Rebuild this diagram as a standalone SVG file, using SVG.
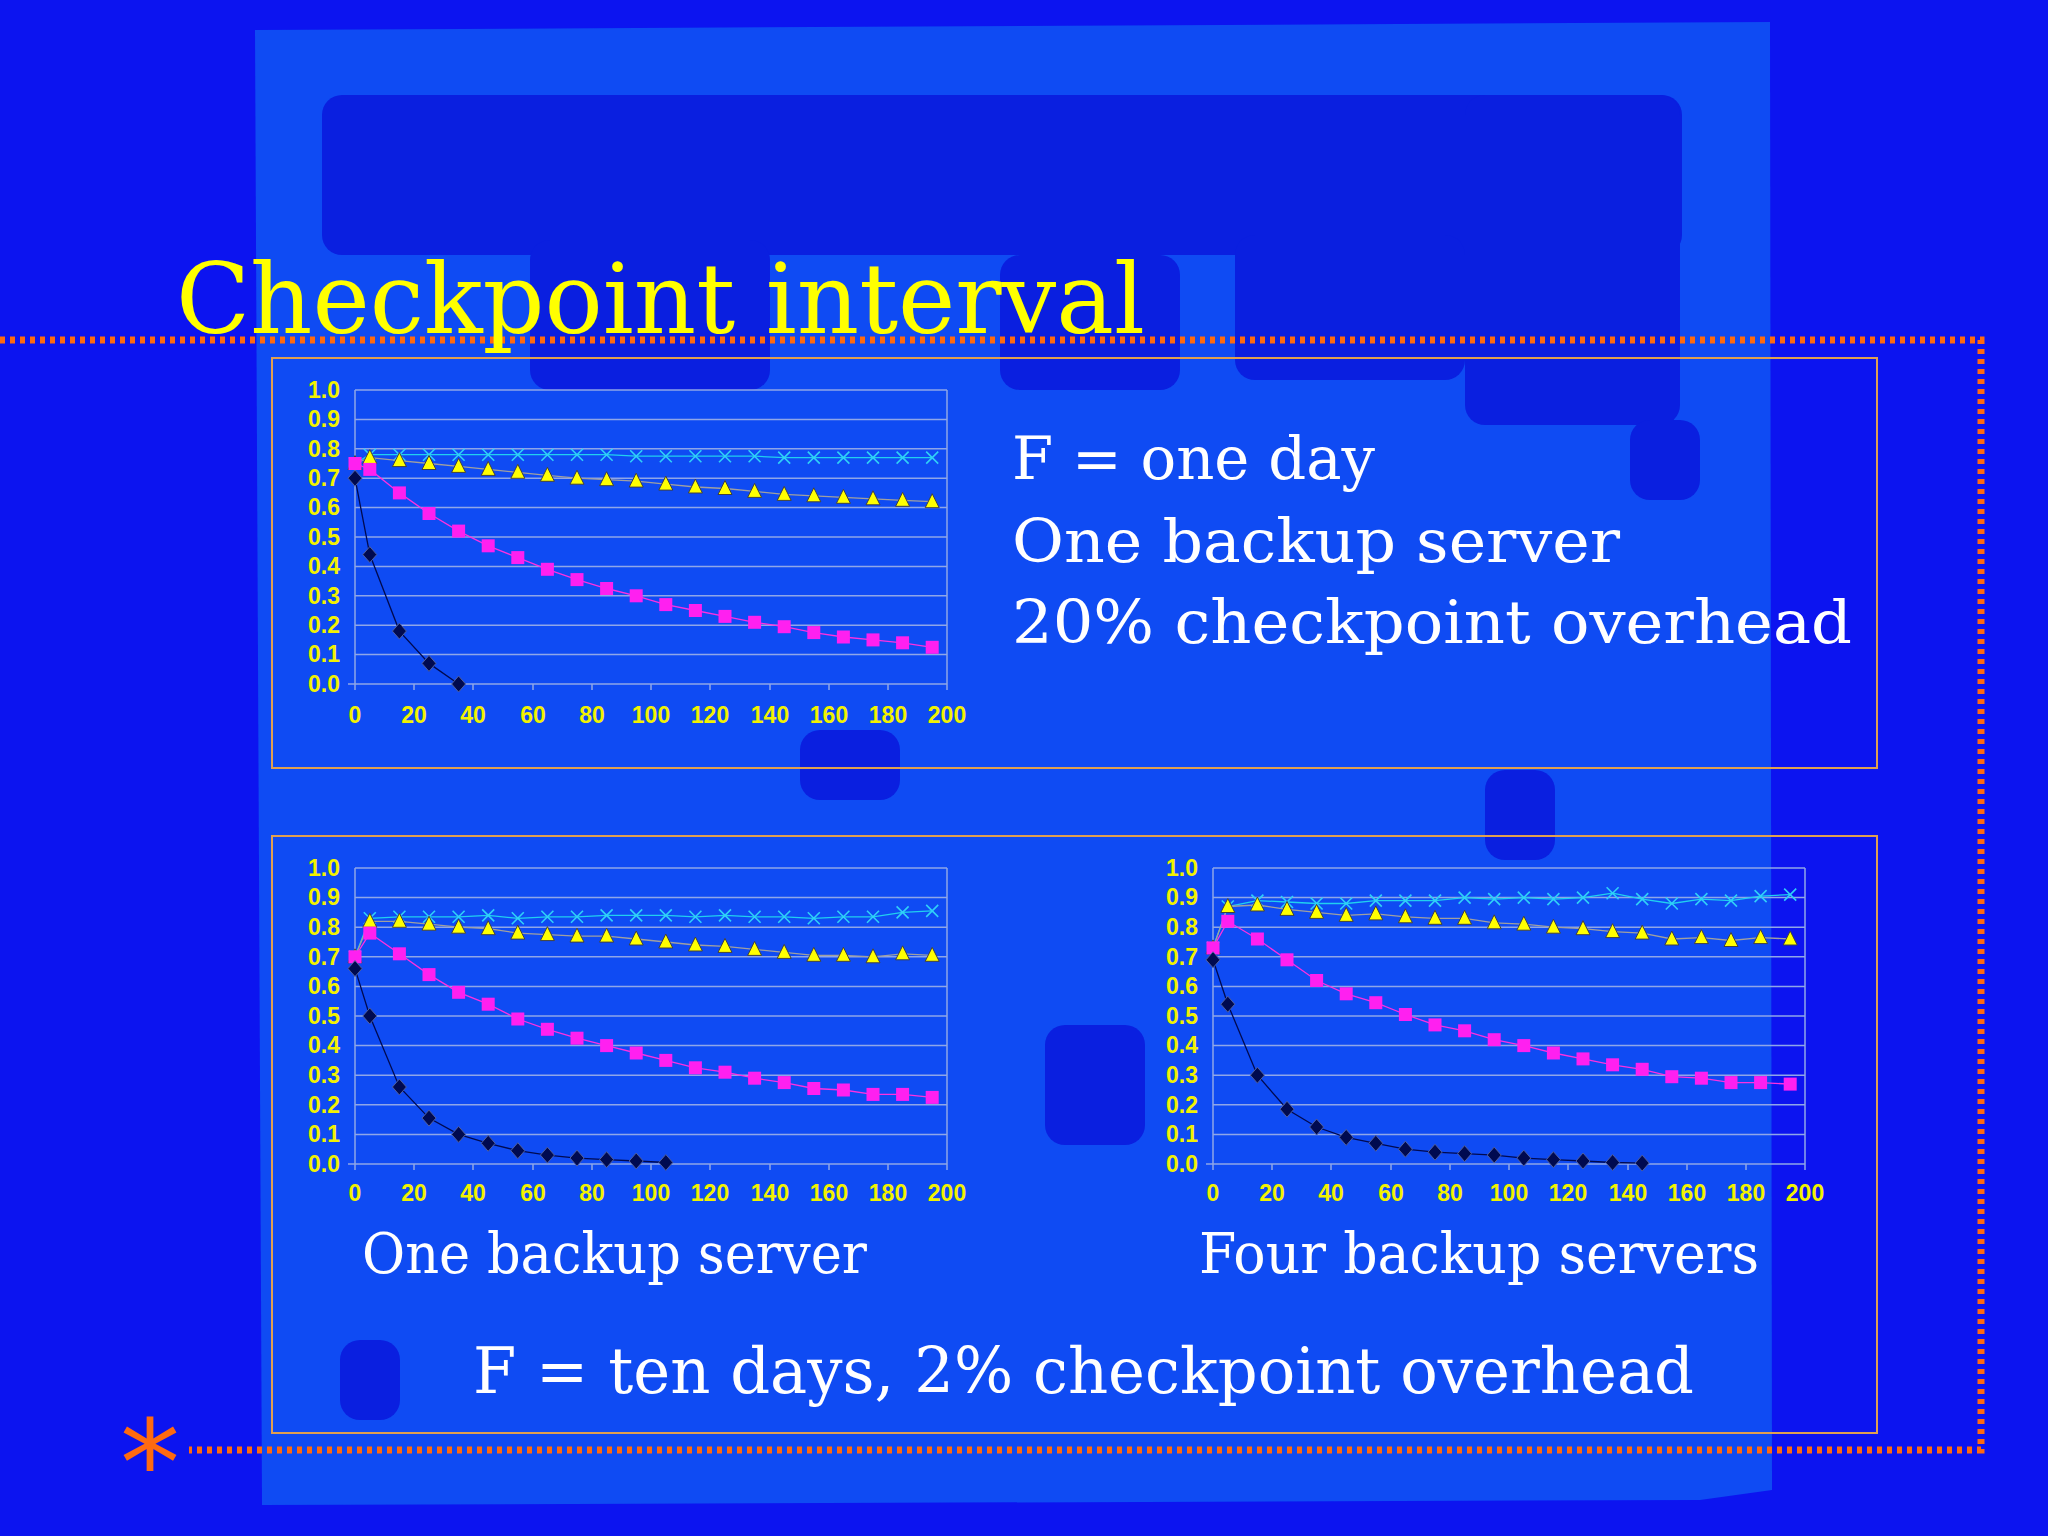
<svg xmlns="http://www.w3.org/2000/svg" width="2048" height="1536" viewBox="0 0 2048 1536">
<style>
.grid{stroke:#8FA6E8;stroke-width:1.5}
.ax{stroke:#8FA6E8;stroke-width:1.5;fill:none}
.lbl{font-family:"Liberation Sans",Arial,sans-serif;font-weight:bold;font-size:23px;fill:#F2F200}
.ylab{text-anchor:end}
.xlab{text-anchor:middle}
.big{font-family:"DejaVu Serif","Liberation Serif",serif;fill:#FFFFFF}
.dk{fill:#0A1FE0}
.s1{fill:none;stroke:#000A50;stroke-width:1.3;marker-start:url(#dia);marker-mid:url(#dia);marker-end:url(#dia)}
.s2{fill:none;stroke:#FF30E0;stroke-width:1.3;marker-start:url(#sq);marker-mid:url(#sq);marker-end:url(#sq)}
.s3{fill:none;stroke:#A0A0A0;stroke-width:1.3;marker-start:url(#tri);marker-mid:url(#tri);marker-end:url(#tri)}
.s4{fill:none;stroke:#20D0F0;stroke-width:1.3;marker-start:url(#crs);marker-mid:url(#crs);marker-end:url(#crs)}
.box{fill:none;stroke:#E0A050;stroke-width:2}
.dot{stroke:#FF6A10;stroke-width:7;stroke-dasharray:5 5;fill:none}
</style>
<defs>
<marker id="dia" markerUnits="userSpaceOnUse" markerWidth="20" markerHeight="20" refX="10" refY="10" overflow="visible"><path d="M10 2 L17 10 L10 18 L3 10Z" fill="#000A50" stroke="#5060A0" stroke-width="1"/></marker>
<marker id="sq" markerUnits="userSpaceOnUse" markerWidth="20" markerHeight="20" refX="10" refY="10" overflow="visible"><rect x="3.5" y="3.5" width="13" height="13" fill="#FF20F0"/></marker>
<marker id="tri" markerUnits="userSpaceOnUse" markerWidth="20" markerHeight="20" refX="10" refY="10" overflow="visible"><path d="M10 2 L17 16 L3 16Z" fill="#FFFF00" stroke="#404040" stroke-width="1"/></marker>
<marker id="crs" markerUnits="userSpaceOnUse" markerWidth="20" markerHeight="20" refX="10" refY="10" overflow="visible"><path d="M4 4 L16 16 M16 4 L4 16" stroke="#30D0F8" stroke-width="1.6"/></marker>
</defs>

<g id="background">
<rect width="2048" height="1536" fill="#0C14F0"/>
<path d="M255 30 L1770 22 L1772 1490 L1700 1500 L262 1505 Z" fill="#0F4BF3"/>
<rect class="dk" x="322" y="95" width="1360" height="160" rx="20"/>
<rect class="dk" x="1465" y="95" width="215" height="330" rx="20"/>
<rect class="dk" x="530" y="240" width="240" height="150" rx="20"/>
<rect class="dk" x="1235" y="235" width="230" height="145" rx="20"/>
<rect class="dk" x="1000" y="255" width="180" height="135" rx="20"/>
<rect class="dk" x="800" y="730" width="100" height="70" rx="20"/>
<rect class="dk" x="1045" y="1025" width="100" height="120" rx="20"/>
<rect class="dk" x="1485" y="770" width="70" height="90" rx="20"/>
<rect class="dk" x="1630" y="420" width="70" height="80" rx="20"/>
<rect class="dk" x="340" y="1340" width="60" height="80" rx="20"/>
</g>

<g id="frame">
<path class="dot" d="M0 340 L1981 340 L1981 1450 L189 1450"/>
<text x="150" y="1505" font-family="DejaVu Sans,sans-serif" font-size="120" fill="#FF6A10" text-anchor="middle">*</text>
</g>

<g id="title">
<text x="176" y="333" font-family="DejaVu Serif,serif" font-size="98" fill="#FFFF00" textLength="969" lengthAdjust="spacingAndGlyphs">Checkpoint interval</text>
</g>

<g id="box-top">
<rect class="box" x="272" y="358" width="1605" height="410"/>
<text class="big" x="1012" y="479" font-size="60" textLength="363" lengthAdjust="spacingAndGlyphs">F = one day</text>
<text class="big" x="1012" y="562" font-size="60" textLength="608" lengthAdjust="spacingAndGlyphs">One backup server</text>
<text class="big" x="1012" y="643" font-size="60" textLength="840" lengthAdjust="spacingAndGlyphs">20% checkpoint overhead</text>
</g>

<g id="chart1">
<g class="grid">
<line x1="355" y1="390" x2="947" y2="390"/><line x1="355" y1="419.4" x2="947" y2="419.4"/><line x1="355" y1="448.8" x2="947" y2="448.8"/><line x1="355" y1="478.2" x2="947" y2="478.2"/><line x1="355" y1="507.6" x2="947" y2="507.6"/><line x1="355" y1="537" x2="947" y2="537"/><line x1="355" y1="566.4" x2="947" y2="566.4"/><line x1="355" y1="595.8" x2="947" y2="595.8"/><line x1="355" y1="625.2" x2="947" y2="625.2"/><line x1="355" y1="654.6" x2="947" y2="654.6"/>
</g>
<path class="ax" d="M947 390 L947 684 M355 390 L355 690 M348 684 L947 684 M414 684v6 M473 684v6 M533 684v6 M592 684v6 M651 684v6 M710 684v6 M770 684v6 M829 684v6 M888 684v6 M947 684v6"/>
<g class="lbl ylab">
<text x="340" y="398">1.0</text><text x="340" y="427">0.9</text><text x="340" y="457">0.8</text><text x="340" y="486">0.7</text><text x="340" y="515">0.6</text><text x="340" y="545">0.5</text><text x="340" y="574">0.4</text><text x="340" y="604">0.3</text><text x="340" y="633">0.2</text><text x="340" y="662">0.1</text><text x="340" y="692">0.0</text>
</g>
<g class="lbl xlab">
<text x="355" y="723">0</text><text x="414" y="723">20</text><text x="473" y="723">40</text><text x="533" y="723">60</text><text x="592" y="723">80</text><text x="651" y="723">100</text><text x="710" y="723">120</text><text x="770" y="723">140</text><text x="829" y="723">160</text><text x="888" y="723">180</text><text x="947" y="723">200</text>
</g>
<polyline class="s4" points="355,463.5 369.8,454.7 399.4,454.7 429,454.7 458.6,454.7 488.2,454.7 517.8,454.7 547.4,454.7 577,454.7 606.6,454.7 636.2,456.2 665.8,456.2 695.4,456.2 725,456.2 754.6,456.2 784.2,457.6 813.8,457.6 843.4,457.6 873,457.6 902.6,457.6 932.2,457.6"/>
<polyline class="s3" points="355,463.5 369.8,457.6 399.4,460.6 429,463.5 458.6,466.4 488.2,469.4 517.8,472.3 547.4,475.3 577,478.2 606.6,479.7 636.2,481.1 665.8,484.1 695.4,487 725,488.5 754.6,491.4 784.2,494.4 813.8,495.8 843.4,497.3 873,498.8 902.6,500.3 932.2,501.7"/>
<polyline class="s2" points="355,463.5 369.8,469.4 399.4,492.9 429,513.5 458.6,531.1 488.2,545.8 517.8,557.6 547.4,569.3 577,579.6 606.6,588.5 636.2,595.8 665.8,604.6 695.4,610.5 725,616.4 754.6,622.3 784.2,626.7 813.8,632.6 843.4,637 873,639.9 902.6,642.8 932.2,647.3"/>
<polyline class="s1" points="355,478.2 369.8,554.6 399.4,631.1 429,663.4 458.6,684"/>
</g>

<g id="box-bottom">
<rect class="box" x="272" y="836" width="1605" height="597"/>
<text class="big" x="362" y="1273" font-size="56" textLength="505" lengthAdjust="spacingAndGlyphs">One backup server</text>
<text class="big" x="1199" y="1273" font-size="56" textLength="560" lengthAdjust="spacingAndGlyphs">Four backup servers</text>
<text class="big" x="473" y="1393" font-size="64" textLength="1221" lengthAdjust="spacingAndGlyphs">F = ten days, 2% checkpoint overhead</text>
</g>

<g id="chart2">
<g class="grid">
<line x1="355" y1="868" x2="947" y2="868"/><line x1="355" y1="897.6" x2="947" y2="897.6"/><line x1="355" y1="927.2" x2="947" y2="927.2"/><line x1="355" y1="956.8" x2="947" y2="956.8"/><line x1="355" y1="986.4" x2="947" y2="986.4"/><line x1="355" y1="1016" x2="947" y2="1016"/><line x1="355" y1="1045.6" x2="947" y2="1045.6"/><line x1="355" y1="1075.2" x2="947" y2="1075.2"/><line x1="355" y1="1104.8" x2="947" y2="1104.8"/><line x1="355" y1="1134.4" x2="947" y2="1134.4"/>
</g>
<path class="ax" d="M947 868 L947 1164 M355 868 L355 1170 M348 1164 L947 1164 M414 1164v6 M473 1164v6 M533 1164v6 M592 1164v6 M651 1164v6 M710 1164v6 M770 1164v6 M829 1164v6 M888 1164v6 M947 1164v6"/>
<g class="lbl ylab">
<text x="340" y="876">1.0</text><text x="340" y="905">0.9</text><text x="340" y="935">0.8</text><text x="340" y="965">0.7</text><text x="340" y="994">0.6</text><text x="340" y="1024">0.5</text><text x="340" y="1053">0.4</text><text x="340" y="1083">0.3</text><text x="340" y="1113">0.2</text><text x="340" y="1142">0.1</text><text x="340" y="1172">0.0</text>
</g>
<g class="lbl xlab">
<text x="355" y="1201">0</text><text x="414" y="1201">20</text><text x="473" y="1201">40</text><text x="533" y="1201">60</text><text x="592" y="1201">80</text><text x="651" y="1201">100</text><text x="710" y="1201">120</text><text x="770" y="1201">140</text><text x="829" y="1201">160</text><text x="888" y="1201">180</text><text x="947" y="1201">200</text>
</g>
<polyline class="s4" points="355,956.8 369.8,918.3 399.4,916.8 429,916.8 458.6,916.8 488.2,915.4 517.8,918.3 547.4,916.8 577,916.8 606.6,915.4 636.2,915.4 665.8,915.4 695.4,916.8 725,915.4 754.6,916.8 784.2,916.8 813.8,918.3 843.4,916.8 873,916.8 902.6,912.4 932.2,910.9"/>
<polyline class="s3" points="355,956.8 369.8,921.3 399.4,921.3 429,924.2 458.6,927.2 488.2,928.7 517.8,933.1 547.4,934.6 577,936.1 606.6,936.1 636.2,939 665.8,942 695.4,945 725,946.4 754.6,949.4 784.2,952.4 813.8,955.3 843.4,955.3 873,956.8 902.6,953.8 932.2,955.3"/>
<polyline class="s2" points="355,956.8 369.8,933.1 399.4,953.8 429,974.6 458.6,992.3 488.2,1004.2 517.8,1019 547.4,1029.3 577,1038.2 606.6,1045.6 636.2,1053 665.8,1060.4 695.4,1067.8 725,1072.2 754.6,1078.2 784.2,1082.6 813.8,1088.5 843.4,1090 873,1094.4 902.6,1094.4 932.2,1097.4"/>
<polyline class="s1" points="355,968.6 369.8,1016 399.4,1087 429,1118.1 458.6,1134.4 488.2,1143.3 517.8,1150.7 547.4,1155.1 577,1158.1 606.6,1159.6 636.2,1161 665.8,1162.5"/>
</g>

<g id="chart3">
<g class="grid">
<line x1="1213" y1="868" x2="1805" y2="868"/><line x1="1213" y1="897.6" x2="1805" y2="897.6"/><line x1="1213" y1="927.2" x2="1805" y2="927.2"/><line x1="1213" y1="956.8" x2="1805" y2="956.8"/><line x1="1213" y1="986.4" x2="1805" y2="986.4"/><line x1="1213" y1="1016" x2="1805" y2="1016"/><line x1="1213" y1="1045.6" x2="1805" y2="1045.6"/><line x1="1213" y1="1075.2" x2="1805" y2="1075.2"/><line x1="1213" y1="1104.8" x2="1805" y2="1104.8"/><line x1="1213" y1="1134.4" x2="1805" y2="1134.4"/>
</g>
<path class="ax" d="M1805 868 L1805 1164 M1213 868 L1213 1170 M1206 1164 L1805 1164 M1272 1164v6 M1331 1164v6 M1391 1164v6 M1450 1164v6 M1509 1164v6 M1568 1164v6 M1628 1164v6 M1687 1164v6 M1746 1164v6 M1805 1164v6"/>
<g class="lbl ylab">
<text x="1198" y="876">1.0</text><text x="1198" y="905">0.9</text><text x="1198" y="935">0.8</text><text x="1198" y="965">0.7</text><text x="1198" y="994">0.6</text><text x="1198" y="1024">0.5</text><text x="1198" y="1053">0.4</text><text x="1198" y="1083">0.3</text><text x="1198" y="1113">0.2</text><text x="1198" y="1142">0.1</text><text x="1198" y="1172">0.0</text>
</g>
<g class="lbl xlab">
<text x="1213" y="1201">0</text><text x="1272" y="1201">20</text><text x="1331" y="1201">40</text><text x="1391" y="1201">60</text><text x="1450" y="1201">80</text><text x="1509" y="1201">100</text><text x="1568" y="1201">120</text><text x="1628" y="1201">140</text><text x="1687" y="1201">160</text><text x="1746" y="1201">180</text><text x="1805" y="1201">200</text>
</g>
<polyline class="s4" points="1213,947.9 1227.8,906.5 1257.4,900.6 1287,902 1316.6,903.5 1346.2,903.5 1375.8,900.6 1405.4,900.6 1435,900.6 1464.6,897.6 1494.2,899.1 1523.8,897.6 1553.4,899.1 1583,897.6 1612.6,893.2 1642.2,899.1 1671.8,903.5 1701.4,899.1 1731,900.6 1760.6,896.1 1790.2,894.6"/>
<polyline class="s3" points="1213,947.9 1227.8,906.5 1257.4,905 1287,909.4 1316.6,912.4 1346.2,915.4 1375.8,913.9 1405.4,916.8 1435,918.3 1464.6,918.3 1494.2,922.8 1523.8,924.2 1553.4,927.2 1583,928.7 1612.6,931.6 1642.2,933.1 1671.8,939 1701.4,937.6 1731,940.5 1760.6,937.6 1790.2,939"/>
<polyline class="s2" points="1213,947.9 1227.8,921.3 1257.4,939 1287,959.8 1316.6,980.5 1346.2,993.8 1375.8,1002.7 1405.4,1014.5 1435,1024.9 1464.6,1030.8 1494.2,1039.7 1523.8,1045.6 1553.4,1053 1583,1058.9 1612.6,1064.8 1642.2,1069.3 1671.8,1076.7 1701.4,1078.2 1731,1082.6 1760.6,1082.6 1790.2,1084.1"/>
<polyline class="s1" points="1213,959.8 1227.8,1004.2 1257.4,1075.2 1287,1109.2 1316.6,1127 1346.2,1137.4 1375.8,1143.3 1405.4,1149.2 1435,1152.2 1464.6,1153.6 1494.2,1155.1 1523.8,1158.1 1553.4,1159.6 1583,1161 1612.6,1162.5 1642.2,1163.1"/>
</g>
</svg>
